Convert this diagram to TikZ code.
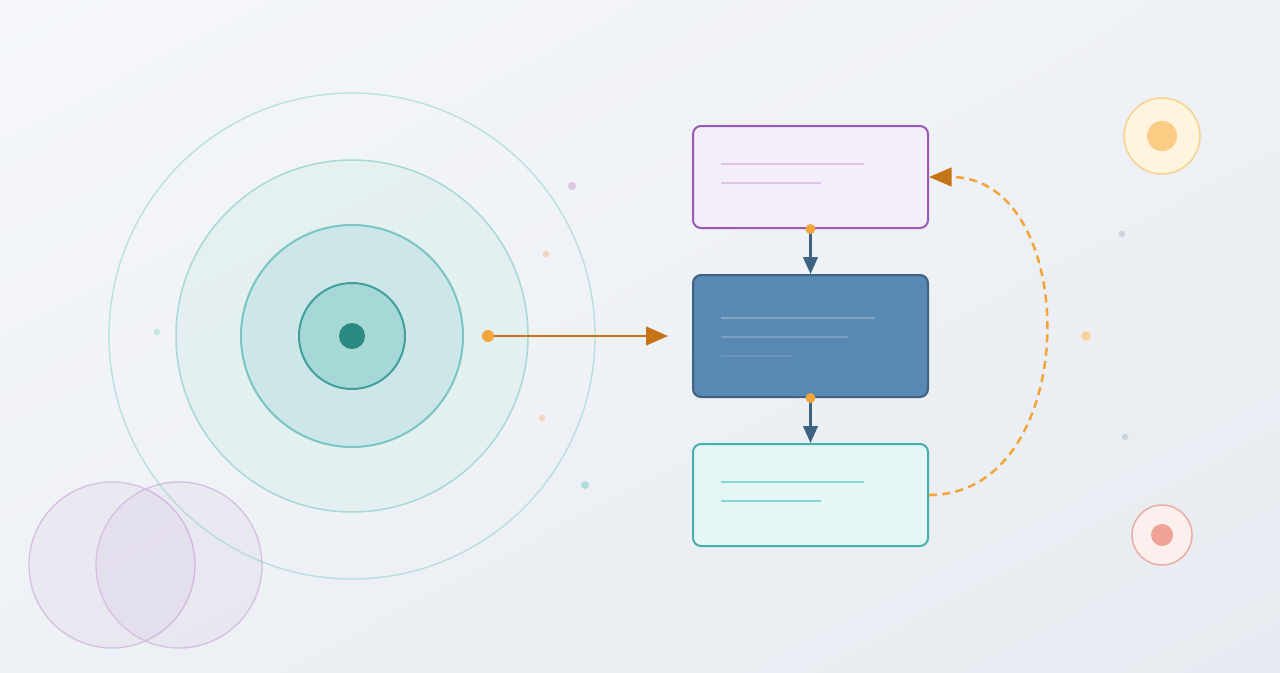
\documentclass[tikz,border=0pt]{standalone}
\usetikzlibrary{arrows.meta,shadings}
\definecolor{bgA}{HTML}{F5F7FA}
\definecolor{bgM}{HTML}{EEF1F5}
\definecolor{bgB}{HTML}{E7EBF1}
\definecolor{ringLine}{HTML}{8FD3CF}
\definecolor{ringTwo}{HTML}{E2EFF0}
\definecolor{ringTwoLine}{HTML}{A6D8D7}
\definecolor{ringThree}{HTML}{CDE7E8}
\definecolor{ringThreeLine}{HTML}{78C6C2}
\definecolor{ringFour}{HTML}{A6D8D8}
\definecolor{ringFourLine}{HTML}{449E99}
\definecolor{coreTeal}{HTML}{2A8A82}
\definecolor{lilac}{HTML}{9B59B6}
\definecolor{lilacLine}{HTML}{D6C0E1}
\definecolor{topFill}{HTML}{F4EEFA}
\definecolor{topBar}{HTML}{DCC4E7}
\definecolor{midFill}{HTML}{5789B2}
\definecolor{midLine}{HTML}{3D6282}
\definecolor{botFill}{HTML}{E4F6F5}
\definecolor{botLine}{HTML}{45B0AB}
\definecolor{botBar}{HTML}{86D6D3}
\definecolor{dotO}{HTML}{F2A53A}
\definecolor{darkO}{HTML}{C57516}
\definecolor{sunFill}{HTML}{FFF4DE}
\definecolor{sunLine}{HTML}{F9D08E}
\definecolor{sunCore}{HTML}{FBCC84}
\definecolor{rosFill}{HTML}{FCF0EE}
\definecolor{rosLine}{HTML}{EAACA3}
\definecolor{rosCore}{HTML}{F0A296}
\begin{document}
\begin{tikzpicture}[x=0.75pt,y=-0.75pt,
    box/.style={rounded corners=6pt,line width=1.5pt,minimum width=176.25pt,
        minimum height=76.5pt,inner sep=0pt},
    bar/.style={line width=1.5pt},
    link/.style={midLine,line width=1.6pt,-{Triangle[length=12.75pt,width=11pt]}}]
    % background
    \shade[upper left=bgA,lower right=bgB,upper right=bgM,lower left=bgM]
        (0,0) rectangle (1280,672);
    \useasboundingbox (0,0) rectangle (1280,672);
    % purple circles
    \filldraw[lilac,fill opacity=0.06,draw=lilacLine,line width=1pt] (112,565) circle[radius=62.25pt];
    \filldraw[lilac,fill opacity=0.06,draw=lilacLine,line width=1pt] (179,565) circle[radius=62.25pt];
    % rings
    \draw[ringLine,draw opacity=0.55,line width=1.1pt] (352,336) circle[radius=182.25pt];
    \filldraw[fill=ringTwo,fill opacity=0.8,draw=ringTwoLine,line width=1.1pt] (352,336) circle[radius=132pt];
    \filldraw[fill=ringThree,draw=ringThreeLine,line width=1.5pt] (352,336) circle[radius=83.25pt];
    \filldraw[fill=ringFour,draw=ringFourLine,line width=1.5pt] (352,336) circle[radius=39.75pt];
    \fill[coreTeal] (352,336) circle[radius=9.75pt];
    % small dots
    \fill[lilac!35] (572,186) circle[radius=3pt];
    \fill[darkO!30] (546,254) circle[radius=2.4pt];
    \fill[darkO!30] (542,418) circle[radius=2.4pt];
    \fill[ringThreeLine!60] (585,485) circle[radius=3pt];
    \fill[ringThreeLine!45] (157,332) circle[radius=2.4pt];
    \fill[midLine!28] (1122,234) circle[radius=2.4pt];
    \fill[dotO!50] (1086,336) circle[radius=3.6pt];
    \fill[midLine!28] (1125,437) circle[radius=2.4pt];
    % corner badges
    \filldraw[fill=sunFill,draw=sunLine,line width=1.1pt] (1162,136) circle[radius=28.5pt];
    \fill[sunCore] (1162,136) circle[radius=11.25pt];
    \filldraw[fill=rosFill,draw=rosLine,line width=1.1pt] (1162,535) circle[radius=22.5pt];
    \fill[rosCore] (1162,535) circle[radius=8.25pt];
    % boxes
    \node[box,draw=lilac,fill=topFill] (top) at (810.5,177) {};
    \node[box,draw=midLine,fill=midFill,minimum height=91.5pt] (mid) at (810.5,336) {};
    \node[box,draw=botLine,fill=botFill] (bot) at (810.5,495) {};
    \draw[bar,topBar] (721,164) -- (864,164);
    \draw[bar,topBar] (721,183) -- (821,183);
    \draw[bar,white,opacity=0.25] (721,318) -- (875,318);
    \draw[bar,white,opacity=0.2] (721,337) -- (848,337);
    \draw[bar,white,opacity=0.12] (721,356) -- (793,356);
    \draw[bar,botBar] (721,482) -- (864,482);
    \draw[bar,botBar] (721,501) -- (821,501);
    % connectors
    \coordinate (src) at (488,336);
    \coordinate (dst) at (668,336);
    \draw[darkO,line width=1.8pt,-{Triangle[length=16.5pt,width=14pt]}] (src) -- (dst);
    \fill[dotO] (src) circle[radius=4.5pt];
    \draw[link] (top.south) -- (mid.north);
    \draw[link] (mid.south) -- (bot.north);
    \fill[dotO] (top.south) circle[radius=3.75pt];
    \fill[dotO] (mid.south) circle[radius=3.75pt];
    \draw[dotO,line width=1.9pt,dash pattern=on 6pt off 4pt,
        -{Triangle[length=17pt,width=14pt,fill=darkO,color=darkO]}]
        (bot.east) .. controls +(154,0) and +(154,0) .. (top.east);
\end{tikzpicture}
\end{document}
